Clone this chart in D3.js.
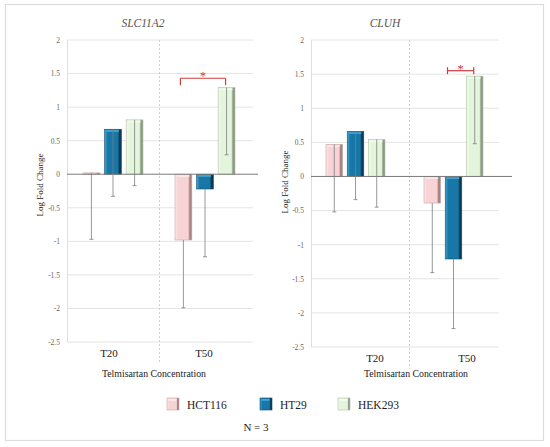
<!DOCTYPE html>
<html>
<head>
<meta charset="utf-8">
<script src="https://cdn.jsdelivr.net/npm/d3@7"></script>
<style>
  html, body { margin: 0; padding: 0; background: #ffffff; }
  svg { display: block; }
  svg text { font-family: "Liberation Serif", "DejaVu Serif", serif !important; }
</style>
</head>
<body>
<svg id="chart" width="550" height="447" font-family="Liberation Serif, DejaVu Serif, serif"></svg>
<script>
// ---------------- DATA ----------------
const categories = ["T20", "T50"];
const seriesNames = ["HCT116", "HT29", "HEK293"];
const yTicks = [2, 1.5, 1, 0.5, 0, -0.5, -1, -1.5, -2, -2.5];

// Log fold change, one row per series (HCT116, HT29, HEK293), columns = categories
const slc11a2Values = [
  [0.02, -0.98],
  [0.67, -0.22],
  [0.81, 1.29]
];
const slc11a2Errors = [
  [0.99, 1.01],
  [1.00, 1.01],
  [0.98, 1.00]
];
const cluhValues = [
  [0.47, -0.39],
  [0.66, -1.21],
  [0.54, 1.47]
];
const cluhErrors = [
  [0.99, 1.02],
  [1.00, 1.02],
  [0.99, 0.99]
];
// significance brackets: [category, seriesA, seriesB, height]
const slc11a2Signif = ["T50", "HCT116", "HEK293", 1.43];
const cluhSignif = ["T50", "HT29", "HEK293", 1.55];

// ---------------- STYLE ----------------
const FONT = "Liberation Serif, DejaVu Serif, serif";
const seriesFill = {
  HCT116: { base: "#f8d3d5", light: "#fde9ea", dark: "#a88283", stroke: "#c9a3a5" },
  HT29:   { base: "#1877a6", light: "#45a7d4", dark: "#0b3b56", stroke: "#0e4d70" },
  HEK293: { base: "#e3f5da", light: "#f3fcef", dark: "#8c9a84", stroke: "#aebfa5" }
};

const panels = [
  { title: "SLC11A2", values: slc11a2Values, errors: slc11a2Errors, signif: slc11a2Signif, capStyle: "down",
    titleX: 143, x0: 67, x1: 251, gridX1: 253, zeroX1: 258, yTop: 40, yBot: 342,
    tickX: 60, yTitleX: 40, yTitleY: 185, inner: [16, 76], labelShift: [-4, -1], labelY: 357,
    axisTitleX: 154, axisTitleY: 377 },
  { title: "CLUH", values: cluhValues, errors: cluhErrors, signif: cluhSignif, capStyle: "both",
    titleX: 385, x0: 311, x1: 507, gridX1: 499, zeroX1: 512, yTop: 40, yBot: 347,
    tickX: 304, yTitleX: 285, yTitleY: 182, inner: [15, 74], labelShift: [15, 9], labelY: 362,
    axisTitleX: 416, axisTitleY: 377 }
];

const svg = d3.select("#chart");

// gradients
const defs = svg.append("defs");
seriesNames.forEach((s, i) => {
  const c = seriesFill[s];
  const g = defs.append("linearGradient").attr("id", "grad" + i)
    .attr("x1", "0%").attr("x2", "100%").attr("y1", "0%").attr("y2", "0%");
  g.append("stop").attr("offset", "0%").attr("stop-color", c.light);
  g.append("stop").attr("offset", "18%").attr("stop-color", c.base);
  g.append("stop").attr("offset", "78%").attr("stop-color", c.base);
  g.append("stop").attr("offset", "88%").attr("stop-color", c.dark);
  g.append("stop").attr("offset", "100%").attr("stop-color", c.dark);
});

// outer frame
svg.append("rect").attr("x", 5.5).attr("y", 4.5).attr("width", 538).attr("height", 436)
  .attr("fill", "none").attr("stroke", "#dcdcdc").attr("stroke-width", 1.2);

panels.forEach(p => {
  const g = svg.append("g").attr("font-family", FONT);
  const y = d3.scaleLinear().domain([-2.5, 2]).range([p.yBot, p.yTop]);
  const x = d3.scaleBand().domain(categories).range([p.x0, p.x1]);
  const xi = d3.scaleBand().domain(seriesNames).range(p.inner).paddingInner(0.22);

  // gridlines
  g.append("g").selectAll("line").data(yTicks.filter(t => t !== 0)).join("line")
    .attr("x1", p.x0).attr("x2", p.gridX1)
    .attr("y1", d => y(d)).attr("y2", d => y(d))
    .attr("stroke", "#e4e4e4").attr("stroke-width", 1);

  // left axis line
  g.append("line").attr("x1", p.x0 + 0.5).attr("x2", p.x0 + 0.5)
    .attr("y1", p.yTop).attr("y2", p.yBot).attr("stroke", "#dedede");

  // divider
  g.append("line").attr("x1", x("T50") + 0.5).attr("x2", x("T50") + 0.5)
    .attr("y1", p.yTop).attr("y2", p.yBot + 22)
    .attr("stroke", "#cfcfcf").attr("stroke-dasharray", "2,2");

  // y axis labels via d3 axis
  const yAxis = d3.axisLeft(y).tickValues(yTicks).tickSize(0).tickPadding(0)
    .tickFormat(d => String(d));
  const ax = g.append("g").attr("transform", `translate(${p.tickX},0)`).call(yAxis)
    .attr("font-family", FONT);
  ax.select(".domain").remove();
  ax.selectAll("text").attr("font-size", 7.5).attr("fill", "#666").attr("font-family", FONT);

  // title
  g.append("text").attr("x", p.titleX).attr("y", 27).attr("text-anchor", "middle")
    .attr("font-family", FONT)
    .attr("font-size", 11.5).attr("font-style", "italic").attr("fill", "#555").text(p.title);

  // y title
  g.append("text").attr("transform", `translate(${p.yTitleX},${p.yTitleY}) rotate(-90)`)
    .attr("text-anchor", "middle").attr("dominant-baseline", "central").attr("font-family", FONT)
    .attr("font-size", 9).attr("fill", "#1a1a1a").text("Log Fold Change");

  // bars
  const bars = [];
  seriesNames.forEach((s, si) => {
    categories.forEach((c, ci) => {
      bars.push({ s, si, c, v: p.values[si][ci], e: p.errors[si][ci] });
    });
  });
  const bg = g.append("g");
  bars.forEach(b => {
    const bx = x(b.c) + xi(b.s);
    const bw = xi.bandwidth();
    const yTopB = y(Math.max(0, b.v));
    const h = Math.abs(y(b.v) - y(0));
    const col = seriesFill[b.s];
    bg.append("rect").attr("x", bx).attr("y", yTopB).attr("width", bw).attr("height", Math.max(h, 1.2))
      .attr("fill", `url(#grad${b.si})`).attr("stroke", col.stroke).attr("stroke-width", 0.6);
    if (h > 3) {
      bg.append("rect").attr("x", bx + 1.5).attr("y", yTopB + 0.8).attr("width", bw - 4).attr("height", 1.8)
        .attr("fill", col.light).attr("opacity", 0.9);
    }
  });

  // zero line
  g.append("line").attr("x1", p.x0).attr("x2", p.zeroX1)
    .attr("y1", y(0)).attr("y2", y(0)).attr("stroke", "#7a7a7a").attr("stroke-width", 1);

  // error bars (minus direction)
  const eg = g.append("g").attr("stroke", "#7d7d7d").attr("stroke-width", 0.8);
  bars.forEach(b => {
    const cx = x(b.c) + xi(b.s) + xi.bandwidth() / 2;
    const y1 = y(b.v), y2 = y(b.v - b.e);
    eg.append("line").attr("x1", cx).attr("x2", cx).attr("y1", y1).attr("y2", y2);
    eg.append("line").attr("x1", cx - 2).attr("x2", cx + 2).attr("y1", y2).attr("y2", y2);
  });

  // significance bracket
  const [sc, sa, sb, sh] = p.signif;
  const xa = x(sc) + xi(sa) + xi.bandwidth() / 2 - (p.capStyle === "both" ? 6 : 3);
  const xb = x(sc) + xi(sb) + xi.bandwidth() / 2 - 1;
  const ys = y(sh);
  const red = "#cf3b3b";
  const sg = g.append("g").attr("stroke", red).attr("stroke-width", 1.2).attr("fill", "none");
  sg.append("line").attr("x1", xa).attr("x2", xb).attr("y1", ys).attr("y2", ys);
  if (p.capStyle === "down") {
    sg.append("line").attr("x1", xa).attr("x2", xa).attr("y1", ys).attr("y2", ys + 7);
    sg.append("line").attr("x1", xb).attr("x2", xb).attr("y1", ys).attr("y2", ys + 7);
  } else {
    sg.append("line").attr("x1", xa).attr("x2", xa).attr("y1", ys - 3.5).attr("y2", ys + 3.5);
    sg.append("line").attr("x1", xb).attr("x2", xb).attr("y1", ys - 3.5).attr("y2", ys + 3.5);
  }
  g.append("text").attr("x", (xa + xb) / 2).attr("y", ys + 2).attr("font-family", FONT)
    .attr("text-anchor", "middle").attr("font-size", 13).attr("fill", red).text("*");

  // category labels
  categories.forEach((c, ci) => {
    g.append("text").attr("x", x(c) + x.bandwidth() / 2 + p.labelShift[ci]).attr("y", p.labelY)
      .attr("font-family", FONT)
      .attr("text-anchor", "middle").attr("font-size", 11).attr("fill", "#222").text(c);
  });

  // x axis title
  g.append("text").attr("x", p.axisTitleX).attr("y", p.axisTitleY).attr("text-anchor", "middle")
    .attr("font-family", FONT)
    .attr("font-size", 9.8).attr("fill", "#222").text("Telmisartan Concentration");
});

// legend
const legendX = [167, 260, 338];
const lg = svg.append("g").attr("font-family", FONT);
seriesNames.forEach((s, i) => {
  const col = seriesFill[s];
  lg.append("rect").attr("x", legendX[i]).attr("y", 398).attr("width", 12).attr("height", 12)
    .attr("fill", `url(#grad${i})`).attr("stroke", col.stroke).attr("stroke-width", 0.6);
  lg.append("rect").attr("x", legendX[i] + 1.5).attr("y", 399).attr("width", 8).attr("height", 1.8)
    .attr("fill", col.light);
  lg.append("text").attr("x", legendX[i] + 20).attr("y", 408.5).attr("font-family", FONT)
    .attr("font-size", 11.5).attr("fill", "#222").text(s);
});
svg.append("text").attr("x", 256).attr("y", 431).attr("text-anchor", "middle").attr("font-family", FONT)
  .attr("font-size", 11).attr("fill", "#222").text("N = 3");
</script>
</body>
</html>
